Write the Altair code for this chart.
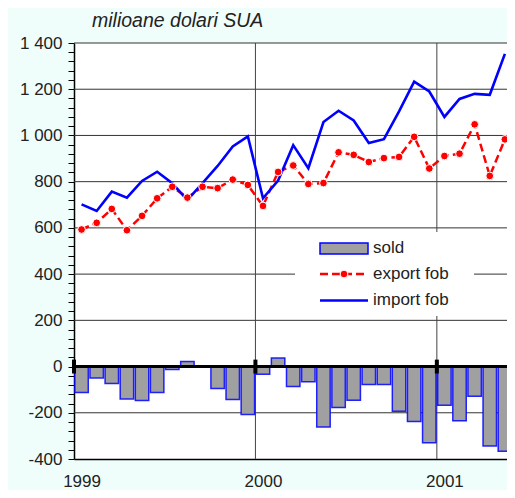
import altair as alt
import pandas as pd

# Monthly data, Jan 1999 ... May 2001 (29 months)
months = list(range(29))
export_fob = [593, 622, 682, 590, 652, 728, 778, 731, 778, 772, 809, 786,
              695, 842, 870, 790, 794, 927, 916, 885, 902, 907, 994, 857,
              911, 921, 1048, 825, 983]
import_fob = [702, 673, 757, 731, 803, 843, 793, 720, 794, 868, 952, 996,
              728, 805, 958, 858, 1058, 1107, 1065, 967, 984, 1104, 1233, 1190,
              1080, 1158, 1180, 1176, 1353]
sold = [-112, -49, -73, -140, -147, -112, -13, 22, 0, -95, -143, -207,
        -33, 37, -86, -66, -262, -177, -146, -78, -78, -193, -238, -330,
        -167, -235, -128, -344, -367]
year_labels = ["1999", "2000", "2001"]
year_starts = [0, 12, 24]
grid_values = [-200, 200, 400, 600, 800, 1000, 1200, 1400]
y_tick_values = list(range(-400, 1401, 40))
legend_labels = ["sold", "export fob", "import fob"]
title_text = "milioane dolari SUA"

FONT = "Liberation Sans"
W, H = 433, 416
XMAX = 28.64

df = pd.DataFrame({"m": months, "exp": export_fob, "imp": import_fob, "sold": sold})
df["t"] = df["m"] + 0.5
df["x1"] = df["t"] - 0.445
df["x2"] = df["t"] + 0.445

xs = alt.Scale(domain=[0, XMAX], nice=False, zero=False)
ys = alt.Scale(domain=[-400, 1400], nice=False, zero=False)

label_expr = ("datum.value % 200 != 0 ? '' : (datum.value >= 1000 ? '1 ' + "
              "format(datum.value - 1000, '03d') : toString(datum.value))")

x_axis = alt.Axis(values=[0.5, 12.5, 24.5],
                  labelExpr="datum.value < 1 ? '%s' : (datum.value < 13 ? '%s' : '%s')" % tuple(year_labels),
                  title=None, ticks=False, grid=False, domainColor="#000000", domainWidth=1.5,
                  labelFont=FONT, labelFontSize=17, labelColor="#222222", labelPadding=14,
                  labelFlush=False, labelOverlap=False)
y_axis = alt.Axis(values=y_tick_values, labelExpr=label_expr, title=None, grid=False,
                  tickSize=6, tickColor="#000000", domainColor="#000000", domainWidth=1.5,
                  labelFont=FONT, labelFontSize=17, labelColor="#222222", labelPadding=6,
                  labelOverlap=False, labelFlush=False)


def X(*args, **kw):
    return alt.X(*args, scale=xs, axis=x_axis, **kw)


def Y(*args, **kw):
    return alt.Y(*args, scale=ys, axis=y_axis, **kw)


base = alt.Chart(df)
one = pd.DataFrame({"a": [0]})

# gridlines
hgrid = alt.Chart(pd.DataFrame({"v": grid_values})).mark_rule(color="#333333", strokeWidth=1).encode(
    y=Y("v:Q"))
vgrid = alt.Chart(pd.DataFrame({"t": year_starts[1:]})).mark_rule(color="#444444", strokeWidth=1).encode(
    x=X("t:Q"))

legend_box = alt.Chart(one).mark_rect(fill="white").encode(
    x=alt.value(221), x2=alt.value(400), y=alt.value(189), y2=alt.value(273))
leg_sold = alt.Chart(one).mark_rect(fill="#a0a0a0", stroke="#0000ff", strokeWidth=1.5).encode(
    x=alt.value(246), x2=alt.value(294), y=alt.value(200), y2=alt.value(211))
leg_exp = alt.Chart(one).mark_rule(color="#ff0000", strokeWidth=2.5, strokeDash=[8, 4]).encode(
    x=alt.value(246), x2=alt.value(294), y=alt.value(231))
leg_exp_pt = alt.Chart(one).mark_point(filled=True, fill="#ff0000", stroke="white", strokeWidth=1,
                                       size=60, shape="circle", opacity=1).encode(
    x=alt.value(270), y=alt.value(231))
leg_imp = alt.Chart(one).mark_rule(color="#0000ff", strokeWidth=2.5).encode(
    x=alt.value(246), x2=alt.value(294), y=alt.value(257.5))
leg_text = alt.Chart(pd.DataFrame({"lab": legend_labels, "py": [205, 231, 257]})).mark_text(
    align="left", baseline="middle", font=FONT, fontSize=17, color="#222222").encode(
    x=alt.value(299), y=alt.Y("py:Q", scale=None), text="lab:N")

title = alt.Chart(one).mark_text(align="left", baseline="middle", font=FONT, fontSize=19.5,
                                 fontStyle="italic", color="#222222").encode(
    x=alt.value(18), y=alt.value(-22), text=alt.value(title_text))

bars = base.mark_rect(fill="#a0a0a0", stroke="#0000ff", strokeWidth=1.5, strokeOpacity=0.85,
                      clip=True).encode(
    x=X("x1:Q"), x2="x2:Q", y=Y("sold:Q"), y2=alt.Y2(datum=0))

zero = alt.Chart(one).mark_rule(color="#000000", strokeWidth=3).encode(y=Y(datum=0))
year_marks = alt.Chart(pd.DataFrame({"t": year_starts})).mark_rule(color="#000000", strokeWidth=4).encode(
    x=X("t:Q"), y=Y(datum=-30), y2=alt.Y2(datum=30))

exp_line = base.mark_line(color="#ff0000", strokeWidth=2.5, strokeDash=[8, 4], clip=True).encode(
    x=X("t:Q"), y=Y("exp:Q"))
imp_line = base.mark_line(color="#0000ff", strokeWidth=2.6, clip=True).encode(
    x=X("t:Q"), y=Y("imp:Q"))
exp_pts = base.mark_point(filled=True, fill="#ff0000", stroke="white", strokeWidth=1, size=60,
                          shape="circle", opacity=1, clip=True).encode(
    x=X("t:Q"), y=Y("exp:Q"))

chart = alt.layer(
    hgrid, vgrid, legend_box, leg_sold, leg_exp, leg_exp_pt, leg_imp, leg_text, title,
    bars, zero, year_marks, exp_line, imp_line, exp_pts
).properties(
    width=W, height=H,
    background="#effdfb",
    padding={"left": 66, "top": 35, "right": 0, "bottom": 31},
    autosize=alt.AutoSizeParams(type="none"),
).configure_view(stroke=None, fill="white")

chart.save("out.html", embed_options={"renderer": "svg", "actions": False})
